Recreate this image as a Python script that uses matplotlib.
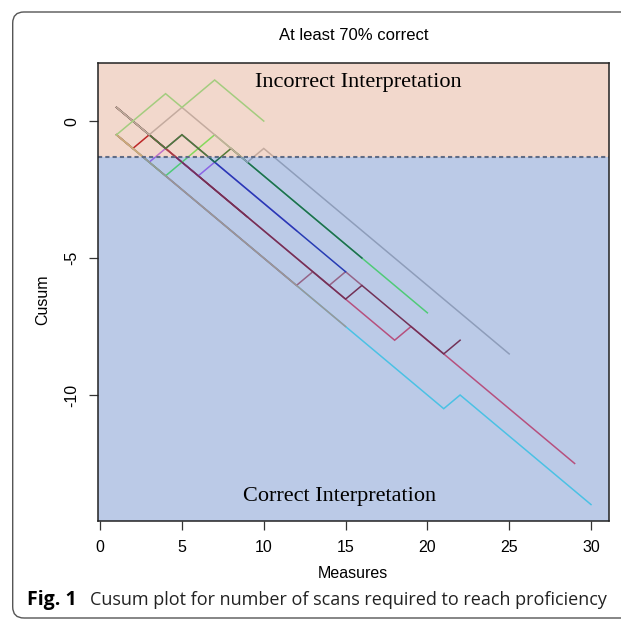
import matplotlib
matplotlib.use('Agg')
import matplotlib.pyplot as plt
from matplotlib.patches import Rectangle, FancyBboxPatch

# cusum values per trainee, measure 1..n  (drawn in this order, later ones on top)
cyan_vals = [-0.5, -1, -1.5, -2, -2.5, -3, -3.5, -4, -4.5, -5, -5.5, -6, -6.5, -7, -7.5,
             -8, -8.5, -9, -9.5, -10, -10.5, -10, -10.5, -11, -11.5, -12, -12.5, -13, -13.5, -14]
pink_vals = [0.5, 0, -0.5, -1, -1.5, -2, -2.5, -3, -3.5, -4, -4.5, -5, -5.5, -6, -6.5,
             -7, -7.5, -8, -7.5, -8, -8.5, -9, -9.5, -10, -10.5, -11, -11.5, -12, -12.5]
mauve_vals = [-0.5, -1, -1.5, -2, -2.5, -3, -3.5, -4, -4.5, -5, -5.5, -6, -5.5, -6, -5.5, -6]
red_vals = [-0.5, -1, -0.5, -1, -1.5, -2, -2.5, -3, -3.5]
purple_vals = [-0.5, -1, -1.5, -1, -1.5, -2, -1.5, -2, -2.5, -3, -3.5, -4]
green_vals = [-0.5, -1, -1.5, -2, -1.5, -1, -0.5, -1, -1.5, -2, -2.5, -3, -3.5, -4, -4.5,
              -5, -5.5, -6, -6.5, -7]
tan_vals = [-0.5, -1, -1.5, -2, -2.5, -3, -3.5, -4, -4.5, -5, -5.5, -6, -6.5, -7, -7.5]
maroon_vals = [0.5, 0, -0.5, -1, -1.5, -2, -2.5, -3, -3.5, -4, -4.5, -5, -5.5, -6, -6.5,
               -6, -6.5, -7, -7.5, -8, -8.5, -8]
blue_vals = [0.5, 0, -0.5, -1, -0.5, -1, -1.5, -2, -2.5, -3, -3.5, -4, -4.5, -5, -5.5]
darkgreen_vals = [0.5, 0, -0.5, -1, -0.5, -1, -1.5, -1, -1.5, -2, -2.5, -3, -3.5, -4, -4.5, -5]
gray_vals = [0.5, 0, -0.5, 0, 0.5, 0, -0.5, -1, -1.5, -1, -1.5, -2, -2.5, -3, -3.5, -4,
             -4.5, -5, -5.5, -6, -6.5, -7, -7.5, -8, -8.5]
lightgreen_vals = [-0.5, 0, 0.5, 1, 0.5, 1, 1.5, 1, 0.5, 0]

series = [
    (cyan_vals, '#5ef2fa'),
    (pink_vals, '#f85068'),
    (mauve_vals, '#c86c75'),
    (red_vals, '#b40213'),
    (purple_vals, '#ba6cfc'),
    (green_vals, '#65ff5f'),
    (tan_vals, '#d2b48c'),
    (maroon_vals, '#962430'),
    (blue_vals, '#2b33b5'),
    (darkgreen_vals, '#1e7828'),
    (gray_vals, '#bebebe'),
    (lightgreen_vals, '#90ee90'),
]

threshold = -1.3
xticks = [0, 5, 10, 15, 20, 25, 30]
yticks = [0, -5, -10]

plt.rcParams['font.family'] = ['Liberation Sans', 'DejaVu Sans']

fig = plt.figure(figsize=(6.21, 6.19), dpi=100)
ax = fig.add_axes([98 / 621, 1 - 521 / 619, 511 / 621, 458 / 619])
ax.set_xlim(-0.13, 31.1)
ax.set_ylim(-14.6, 2.12)

for vals, col in series:
    xs = list(range(1, len(vals) + 1))
    ax.plot(xs, vals, color=col, lw=1.1, solid_joinstyle='miter', zorder=2)

# shaded zones over the lines
ax.add_patch(Rectangle((-5, threshold), 50, 20, facecolor='#d48058', alpha=0.3,
                       edgecolor='none', zorder=3))
ax.add_patch(Rectangle((-5, -30), 50, 30 + threshold, facecolor='#2052b2', alpha=0.3,
                       edgecolor='none', zorder=3))
ax.axhline(threshold, color='#5f6b85', lw=1.5, dashes=(2, 1.5), zorder=4)

ax.text(0.5765, 0.8675, 'Incorrect Interpretation', transform=fig.transFigure,
        ha='center', va='center', fontsize=16, family='Liberation Serif', zorder=5)
ax.text(0.5475, 0.1987, 'Correct Interpretation', transform=fig.transFigure,
        ha='center', va='center', fontsize=16, family='Liberation Serif', zorder=5)

ax.set_xticks(xticks)
ax.set_yticks(yticks)
ax.set_yticklabels([str(t) for t in yticks], rotation=90, va='center')
ax.tick_params(axis='both', length=6.5, width=0.9, pad=7, labelsize=11.5, color='#333333')
for sp in ax.spines.values():
    sp.set_linewidth(1.1)
    sp.set_color('#222222')
    sp.set_zorder(6)

fig.text(0.569, 1 - 36 / 619, 'At least 70% correct', ha='center', va='center', fontsize=12)
fig.text(353 / 621, 1 - 574 / 619, 'Measures', ha='center', va='center', fontsize=11.5)
fig.text(43 / 621, 1 - 300 / 619, 'Cusum', ha='center', va='center', fontsize=11.5,
         rotation=90)

fig.text(27 / 621, 1 - 600 / 619, 'Fig. 1', ha='left', va='center', fontsize=14,
         fontweight='bold', family=['Open Sans', 'DejaVu Sans'])
fig.text(90 / 621, 1 - 600 / 619, 'Cusum plot for number of scans required to reach proficiency',
         ha='left', va='center', fontsize=13, family=['Open Sans', 'DejaVu Sans'],
         color='#222222')

frame = FancyBboxPatch((12.7 / 621, 1 / 619), 1.2, 1 - 13 / 619,
                       boxstyle='round,pad=0,rounding_size=0.018',
                       transform=fig.transFigure, facecolor='none',
                       edgecolor='#555555', lw=1.0)
fig.patches.append(frame)

fig.savefig('out.png', dpi=100)
